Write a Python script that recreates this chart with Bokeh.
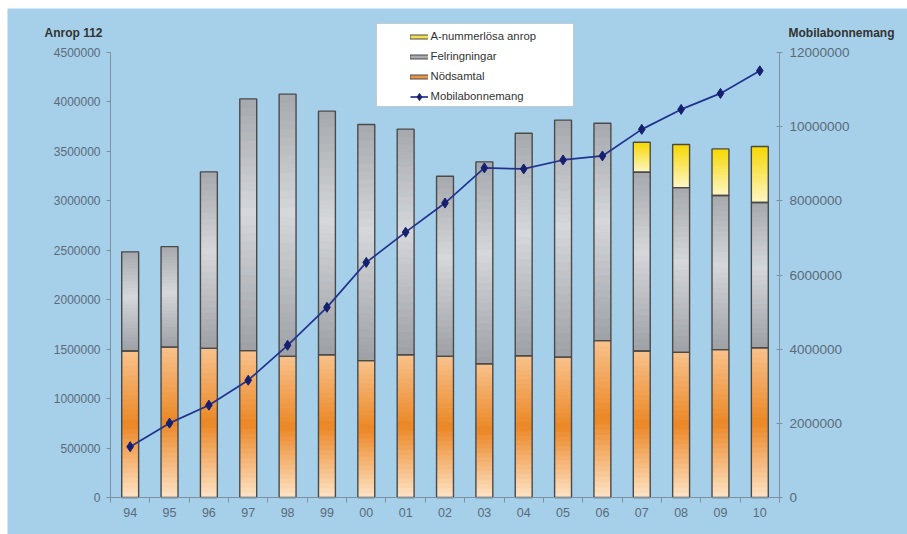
from bokeh.plotting import figure
from bokeh.models import (ColumnDataSource, Range1d, LinearAxis, FixedTicker, SingleIntervalTicker,
                          BasicTickFormatter, Legend, LegendItem, Label, BoxAnnotation)
from bokeh.embed import file_html
from bokeh.resources import INLINE

# ---------------- data ----------------
years = ["94", "95", "96", "97", "98", "99", "00", "01", "02", "03", "04", "05", "06", "07", "08", "09", "10"]
nodsamtal = [1481000, 1521000, 1508000, 1485000, 1427000, 1444000, 1384000, 1444000, 1427000,
             1353000, 1434000, 1420000, 1586000, 1481000, 1468000, 1495000, 1515000]
felringningar = [1003000, 1016000, 1785000, 2546000, 2652000, 2463000, 2388000, 2281000, 1822000,
                 2041000, 2250000, 2396000, 2199000, 1808000, 1666000, 1559000, 1468000]
a_nummerlosa = [0, 0, 0, 0, 0, 0, 0, 0, 0, 0, 0, 0, 0, 304000, 436000, 471000, 567000]
mobilabonnemang = [1370000, 2005000, 2490000, 3163000, 4105000, 5128000, 6339000, 7155000, 7940000,
                   8888000, 8860000, 9102000, 9210000, 9927000, 10466000, 10897000, 11507000]
left_max = 4500000
right_max = 12000000

# ---------------- layout (page pixels) ----------------
W, H = 907, 534
ML, MT = 7, 8                 # white page margin left / top
PL, PR, PT, PB = 110, 779, 52, 497   # axis box: left axis, right axis, top tick, baseline

BG = "#a6d0ea"
AXIS = "#7f90a0"
TICKTXT = "#5b6a78"
OUTLINE = "#4a4a4a"
FONT = "Liberation Sans"
BAR_W = 0.43
N = 30

ORANGE = [(0.0, "#fde3c6"), (0.5, "#eb8726"), (1.0, "#f8c28c")]
GREY = [(0.0, "#9da0a5"), (0.55, "#d5d7da"), (1.0, "#a5a8ac")]
YELLOW = [(0.0, "#fdf6c6"), (1.0, "#f6d800")]


def hex2rgb(h):
    h = h.lstrip("#")
    return tuple(int(h[i:i + 2], 16) for i in (0, 2, 4))


def grad(stops, t):
    for (t0, c0), (t1, c1) in zip(stops[:-1], stops[1:]):
        if t <= t1:
            f = (t - t0) / (t1 - t0) if t1 > t0 else 0
            a, b = hex2rgb(c0), hex2rgb(c1)
            return "#%02x%02x%02x" % tuple(int(round(a[k] + (b[k] - a[k]) * f)) for k in range(3))
    return stops[-1][1]


n = len(years)
xs = list(range(n))
band = (PR - PL) / n
x0 = -0.5 - (PL - ML) / band
x1 = n - 0.5 + (W - PR) / band
ls = left_max / (PB - PT)
rs = right_max / (PB - PT)

p = figure(width=W - ML, height=H - MT, output_backend="svg", toolbar_location=None,
           x_range=Range1d(x0, x1), y_range=Range1d(-(H - PB) * ls, left_max + (PT - MT) * ls),
           min_border=0, min_border_left=0, min_border_right=0, min_border_top=0, min_border_bottom=0,
           background_fill_color=BG, border_fill_color=BG, outline_line_color=None)
p.title.visible = False
p.margin = (MT, 0, 0, ML)
p.grid.visible = False
p.extra_y_ranges = {"mob": Range1d(-(H - PB) * rs, right_max + (PT - MT) * rs)}

# gradient slices
sx, sb, st, sc = [], [], [], []
ox, ob, ot = [], [], []
for i in xs:
    segs = [(0, nodsamtal[i], ORANGE),
            (nodsamtal[i], nodsamtal[i] + felringningar[i], GREY),
            (nodsamtal[i] + felringningar[i], nodsamtal[i] + felringningar[i] + a_nummerlosa[i], YELLOW)]
    for b, t, pal in segs:
        if t <= b:
            continue
        h = (t - b) / N
        for k in range(N):
            sx.append(i)
            sb.append(b + h * k)
            st.append(min(t, b + h * (k + 1.6)))
            sc.append(grad(pal, (k + 0.5) / N))
        ox.append(i)
        ob.append(b)
        ot.append(t)

p.vbar(x="x", bottom="b", top="t", width=BAR_W, fill_color="c", line_color=None,
       source=ColumnDataSource(dict(x=sx, b=sb, t=st, c=sc)))
p.vbar(x="x", bottom="b", top="t", width=BAR_W, fill_alpha=0, line_color=OUTLINE, line_width=1.4,
       source=ColumnDataSource(dict(x=ox, b=ob, t=ot)))

# mobile line
msrc = ColumnDataSource(dict(x=xs, y=mobilabonnemang))
ln = p.line("x", "y", source=msrc, y_range_name="mob", line_color="#22338f", line_width=1.7)
sc_r = p.scatter("x", "y", source=msrc, y_range_name="mob", marker="diamond", size=10,
                 fill_color="#16206e", line_color="#16206e")

# axes (fixed inside the frame so that the whole canvas is the frame)
xa = p.xaxis[0]
xa.fixed_location = 0
xa.bounds = (-0.5, n - 0.5)
xa.ticker = FixedTicker(ticks=xs, minor_ticks=[i - 0.5 for i in range(n + 1)])
xa.major_label_overrides = {i: y for i, y in zip(xs, years)}
xa.major_tick_line_color = None
xa.minor_tick_line_color = AXIS
xa.minor_tick_out = 5
xa.minor_tick_in = 0
xa.axis_line_color = AXIS
xa.major_label_text_font = FONT
xa.major_label_text_font_size = "12.5px"
xa.major_label_text_color = TICKTXT
xa.major_label_standoff = 4

ya = p.yaxis[0]
ya.fixed_location = -0.5
ya.bounds = (0, left_max)
ya.ticker = SingleIntervalTicker(interval=500000, num_minor_ticks=0)
ya.formatter = BasicTickFormatter(use_scientific=False)
ya.axis_line_color = AXIS
ya.major_tick_line_color = AXIS
ya.major_tick_out = 4
ya.major_tick_in = 0
ya.minor_tick_line_color = None
ya.major_label_text_font = FONT
ya.major_label_text_font_size = "12px"
ya.major_label_text_color = TICKTXT
ya.major_label_standoff = 6

ra = LinearAxis(y_range_name="mob", ticker=SingleIntervalTicker(interval=2000000, num_minor_ticks=0),
                formatter=BasicTickFormatter(use_scientific=False))
ra.fixed_location = n - 0.5
ra.bounds = (0, right_max)
ra.axis_line_color = AXIS
ra.major_tick_line_color = AXIS
ra.major_tick_out = 3
ra.major_tick_in = 3
ra.minor_tick_line_color = None
ra.major_label_text_font = FONT
ra.major_label_text_font_size = "13.5px"
ra.major_label_text_color = TICKTXT
ra.major_label_standoff = 7
p.add_layout(ra, "right")

# axis titles (screen units: from frame left / frame bottom)
p.add_layout(Label(x=44 - ML, y=H - 32, x_units="screen", y_units="screen", text="Anrop 112",
                   text_font=FONT, text_font_size="12px", text_font_style="bold",
                   text_color="#333333", text_baseline="middle"))
p.add_layout(Label(x=788 - ML, y=H - 32, x_units="screen", y_units="screen", text="Mobilabonnemang",
                   text_font=FONT, text_font_size="12px", text_font_style="bold",
                   text_color="#333333", text_baseline="middle"))

# legend box
p.add_layout(BoxAnnotation(left=376 - ML, right=573 - ML, top=H - 23, bottom=H - 106,
                           left_units="screen", right_units="screen", top_units="screen", bottom_units="screen",
                           fill_color="white", fill_alpha=1, line_color="#8a8a8a", line_width=1))

nan = float("nan")


def swatch(color):
    a = p.line([nan], [nan], line_color=OUTLINE, line_width=5, line_cap="square")
    b = p.line([nan], [nan], line_color=color, line_width=3, line_cap="butt")
    return [a, b]


legend = Legend(items=[
    LegendItem(label="A-nummerlösa anrop", renderers=swatch("#f2e04e")),
    LegendItem(label="Felringningar", renderers=swatch("#a9abaf")),
    LegendItem(label="Nödsamtal", renderers=swatch("#ea9448")),
    LegendItem(label="Mobilabonnemang", renderers=[ln, sc_r]),
], location=(409.5 - ML, H - 105.5), padding=2, spacing=1, label_height=19, glyph_height=19, glyph_width=18,
    label_standoff=3, label_text_font=FONT, label_text_font_size="11.3px", label_text_color="#333333",
    background_fill_alpha=0, border_line_color=None, margin=0)
p.add_layout(legend, "center")

open("out.html", "w").write(file_html(p, INLINE))
